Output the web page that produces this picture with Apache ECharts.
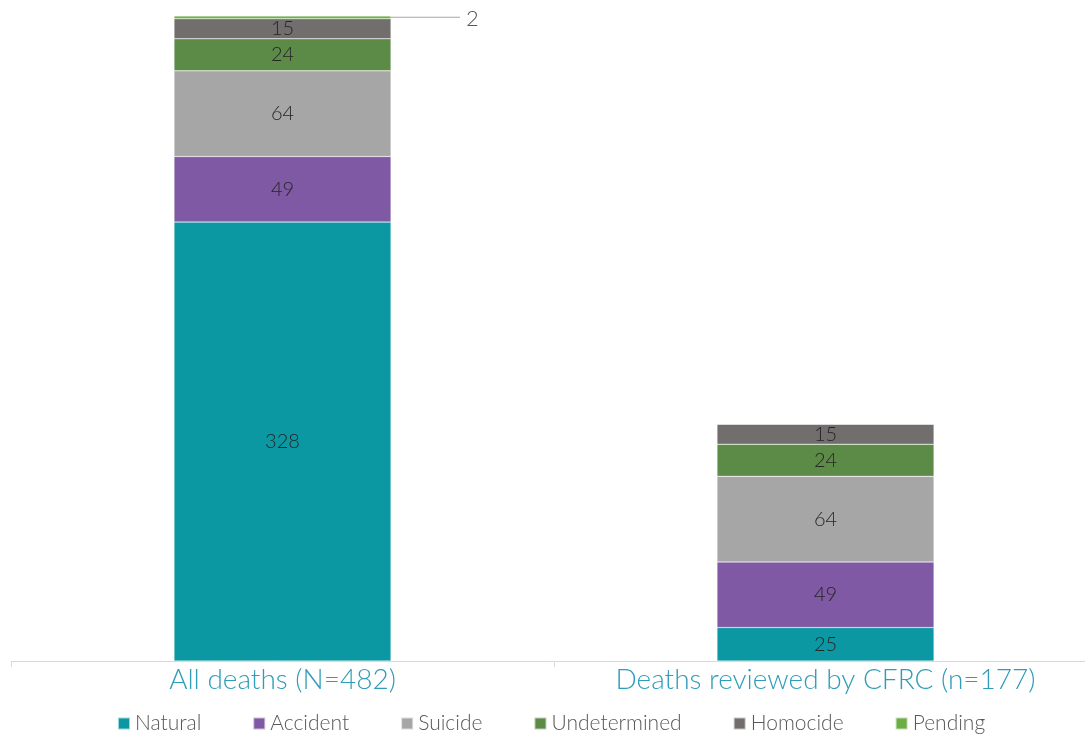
<!DOCTYPE html>
<html>
<head>
<meta charset="utf-8">
<script src="https://cdn.jsdelivr.net/npm/echarts@6/dist/echarts.min.js"></script>
<style>
html,body{margin:0;padding:0;background:#fff;}
#chart{width:1085px;height:734px;}
</style>
</head>
<body>
<div id="chart"></div>
<script>
var categories = ['All deaths (N=482)', 'Deaths reviewed by CFRC (n=177)'];
var seriesNames = ['Natural', 'Accident', 'Suicide', 'Undetermined', 'Homocide', 'Pending'];
var natural = [328, 25];
var accident = [49, 49];
var suicide = [64, 64];
var undetermined = [24, 24];
var homocide = [15, 15];
var pending = [2, 0];
var colors = ['#0C98A3', '#7F59A3', '#A6A6A6', '#5C8A47', '#736E6E', '#6DAD46'];

var dataSets = [natural, accident, suicide, undetermined, homocide, pending];
var FONT = 'Lato, "Open Sans", sans-serif';

var series = seriesNames.map(function (name, i) {
  var s = {
    name: name,
    type: 'bar',
    stack: 'total',
    barWidth: 217,
    data: dataSets[i],
    itemStyle: { color: colors[i], borderColor: 'rgba(255,255,255,0.6)', borderWidth: 0.5 },
    label: {
      show: true,
      position: 'inside',
      color: '#262626',
      fontFamily: FONT,
      fontWeight: 300,
      fontSize: 20,
      formatter: function (p) { return p.value ? String(p.value) : ''; }
    }
  };
  if (name === 'Pending') {
    s.label = {
      show: true,
      position: 'right',
      distance: 0,
      formatter: function (p) { return p.value ? '{l|}{v|' + p.value + '}' : ''; },
      rich: {
        l: { width: 69, height: 1, backgroundColor: '#A6A6A6', verticalAlign: 'middle' },
        v: { color: '#595959', fontFamily: FONT, fontWeight: 300, fontSize: 22, padding: [4, 0, 0, 6], verticalAlign: 'middle' }
      }
    };
  }
  return s;
});

var chart = echarts.init(document.getElementById('chart'));
chart.setOption({
  animation: false,
  color: colors,
  grid: { left: 11, width: 1086, top: 16, bottom: 73, containLabel: false, outerBoundsMode: 'none' },
  legend: {
    bottom: -5,
    left: 112,
    itemWidth: 12,
    itemHeight: 12,
    itemGap: 51,
    icon: 'rect',
    textStyle: { color: '#595959', fontFamily: FONT, fontWeight: 300, fontSize: 21 },
    data: seriesNames
  },
  xAxis: {
    type: 'category',
    data: categories,
    axisLine: { lineStyle: { color: '#D9D9D9', width: 1 } },
    axisTick: { show: true, length: 6, lineStyle: { color: '#D9D9D9' } },
    axisLabel: { interval: 0, hideOverlap: false, color: '#2E9DB7', fontFamily: FONT, fontWeight: 300, fontSize: 28, margin: 5 }
  },
  yAxis: {
    type: 'value',
    min: 0,
    max: 482,
    show: false,
    splitLine: { show: false }
  },
  series: series
});
</script>
</body>
</html>
